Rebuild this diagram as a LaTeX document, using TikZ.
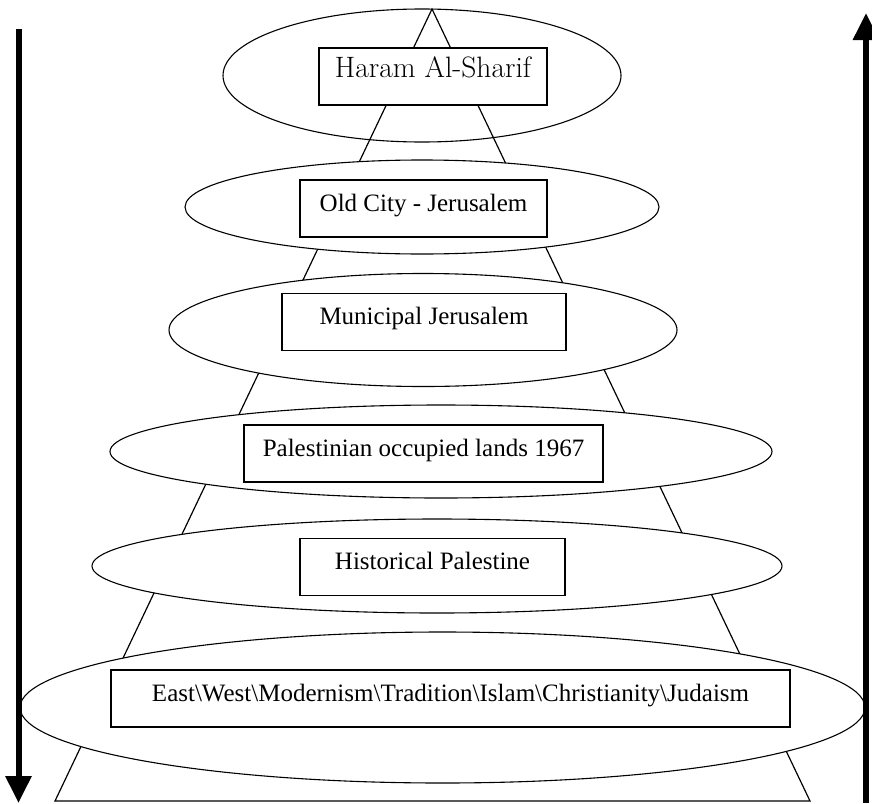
\documentclass[tikz,border=0pt]{standalone}
\usepackage{fontspec}
\newfontfamily\timesfont{Liberation Serif}
\usetikzlibrary{shapes.geometric,arrows.meta}
\tikzset{
  ring/.style={ellipse,draw,line width=1.1pt,inner sep=0pt},
  tag/.style={rectangle,draw,fill=white,line width=1.1pt,inner xsep=0pt,inner ysep=0pt,
    text height=31pt,text depth=26pt,font=\timesfont\fontsize{25}{30}\selectfont},
  axis/.style={line width=6pt,-{Triangle[width=25pt,length=27pt]}}
}
\begin{document}
\begin{tikzpicture}[x=1pt,y=-1pt]
  \useasboundingbox (0,0) rectangle (872,803);
  % pyramid behind the rings
  \coordinate (apex) at (432,9);
  \coordinate (baseL) at (55,801);
  \coordinate (baseR) at (810,801);
  \draw[line width=1.2pt] (apex) -- (baseL) -- (baseR) -- cycle;
  % rings: the top one stays open, the others hide the pyramid
  \node[ring,minimum width=398pt,minimum height=133pt] (e1) at (422,75.5) {};
  \foreach \n/\x/\y/\w/\h in {2/422/207/474/94, 3/423/330/508/113, 4/441/451.5/662/93,
      5/437/566/690/94, 6/442.5/707.5/845/151}
    { \node[ring,fill=white,minimum width=\w pt,minimum height=\h pt] (e\n) at (\x,\y) {}; }
  % labels
  \node[tag,minimum width=228pt,text height=29pt,text depth=28pt,
    font=\fontsize{29.5}{32}\selectfont] (b1) at (433,76.5) {Haram Al-Sharif};
  \foreach \n/\x/\y/\w/\t in {2/423.5/208.5/247/{Old City - Jerusalem},
      3/424/322/284/{Municipal Jerusalem},
      4/423.5/453.5/359/{Palestinian occupied lands 1967},
      5/432.5/567/265/{Historical Palestine},
      6/450.5/698.5/679/{East\textbackslash West\textbackslash Modernism\textbackslash Tradition\textbackslash Islam\textbackslash Christianity\textbackslash Judaism}}
    { \node[tag,minimum width=\w pt] (b\n) at (\x,\y) {\t}; }
  % side arrows
  \coordinate (downTop) at (18.5,29);
  \coordinate (downEnd) at (18.5,803);
  \coordinate (upStart) at (866,803);
  \coordinate (upEnd) at (866,13);
  \draw[axis] (downTop) -- (downEnd);
  \draw[axis] (upStart) -- (upEnd);
\end{tikzpicture}
\end{document}
